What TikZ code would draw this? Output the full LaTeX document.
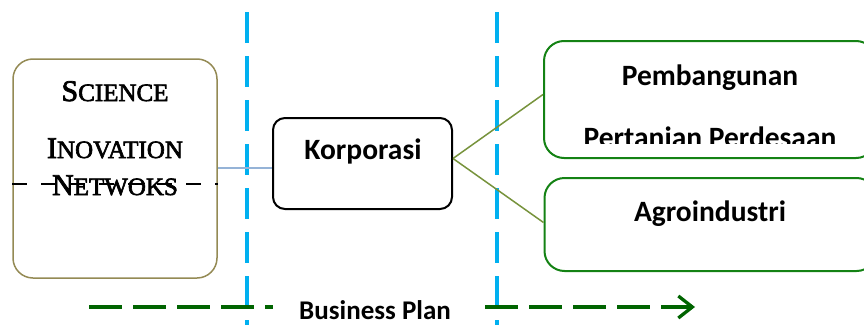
\documentclass[tikz,border=0pt]{standalone}
\usepackage{fontspec}
\setmainfont{Carlito}
\newfontfamily\scifont[FakeBold=2.5]{Liberation Serif}
\usetikzlibrary{arrows.meta,positioning}
\definecolor{sepblue}{HTML}{00B0F0}
\definecolor{scibrown}{HTML}{948A54}
\definecolor{linkblue}{HTML}{95B3D7}
\definecolor{branchgreen}{HTML}{77933C}
\definecolor{outgreen}{RGB}{20,130,20}
\definecolor{plangreen}{RGB}{0,100,0}
\tikzstyle{scibox} = [draw=scibrown,line width=1.5pt,rectangle,rounded corners=20pt,minimum width=204pt,minimum height=219pt,inner sep=0]
\tikzstyle{korpbox} = [draw,line width=2pt,rectangle,rounded corners=12pt,minimum width=179pt,minimum height=91pt,inner sep=0]
\tikzstyle{outbox} = [draw=outgreen,line width=2pt,rectangle,rounded corners=20pt,minimum width=332pt,inner sep=0]
\tikzstyle{lbl} = [anchor=base,inner sep=0,font=\fontsize{29.5}{35}\selectfont\bfseries]
\tikzstyle{scitxt} = [anchor=base,inner sep=0,font=\fontsize{30}{36}\selectfont\scifont]
\tikzstyle{sep} = [sepblue,line width=3.5pt,dash pattern=on 31pt off 13pt]
\tikzstyle{plan} = [plangreen,line width=3.3pt,dash pattern=on 33pt off 11pt]
\tikzstyle{branch} = [branchgreen,line width=1.5pt]
\def \sm {\fontsize{25}{30}\selectfont}

\begin{document}
\begin{tikzpicture}[x=1pt,y=-1pt]
      \useasboundingbox (0,0) rectangle (864,324);
      \clip (0,0) rectangle (864,324);
      % boxes
      \node[scibox] (sci) at (115,168.5) {};
      \node[korpbox] (korp) at (362.5,163.5) {};
      \node[outbox,minimum height=117pt] (pemb) at (710,99.5) {};
      \node[outbox,minimum height=93pt] (agro) at (710.5,224.5) {};
      % texts
      \node[scitxt] (sci1) at (115,101) {S{\sm CIENCE}};
      \node[scitxt] (sci2) at (115,158) {I{\sm NOVATION}};
      \node[scitxt] (sci3) at (115,195) {N{\sm ETWOKS}};
      \node[lbl] (korptxt) at (363,159) {Korporasi};
      \node[lbl] (pemb1) at (710,85) {Pembangunan};
      \begin{scope}
        \clip (544,0) rectangle (864,143);
        \node[lbl] (pemb2) at (710,147) {Pertanian Perdesaan};
      \end{scope}
      \node[lbl,font=\fontsize{27}{32}\selectfont\bfseries] (bp) at (375,319) {Business Plan};
      \node[lbl] (agrotxt) at (710,221) {Agroindustri};
      % separators
      \coordinate (sepa) at (247,12);
      \coordinate (sepb) at (497,12);
      \draw[sep] (sepa) -- (sepa |- 0,330);
      \draw[sep] (sepb) -- (sepb |- 0,330);
      % links
      \draw[black,line width=2.6pt,dash pattern=on 15pt off 14pt] (sci.west |- 0,184) -- (sci.east |- 0,184);
      \draw[linkblue,line width=1.5pt] (sci.east |- 0,168) -- (korp.west |- 0,168);
      \draw[branch] ([yshift=5pt]korp.east) -- ([yshift=5pt]pemb.west);
      \draw[branch] ([yshift=5pt]korp.east) -- ([yshift=2pt]agro.west);
      % business plan
      \coordinate (bpa) at (89,307);
      \coordinate (bpa2) at (273,307);
      \coordinate (bpb) at (485,307);
      \coordinate (bpend) at (695,307);
      \draw[plan] (bpa) -- (bpa2);
      \draw[plan,-{Straight Barb[length=14pt,width=22pt]}] (bpb) -- (bpend);
\end{tikzpicture}
\end{document}
